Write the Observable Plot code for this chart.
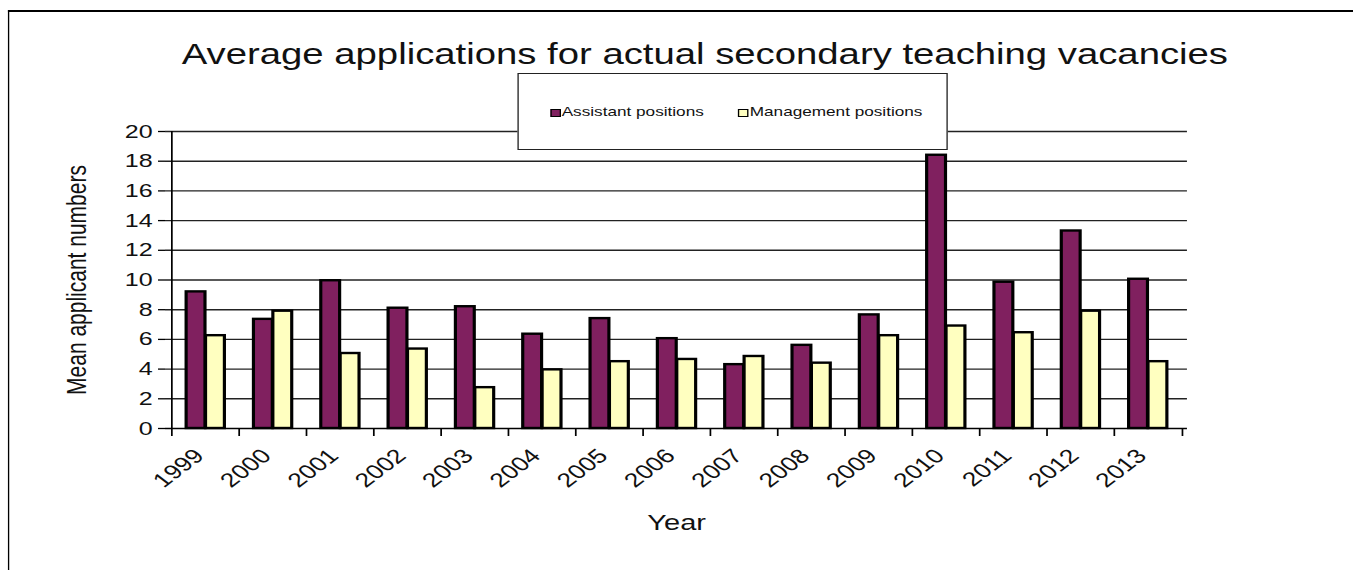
<!DOCTYPE html>
<html>
<head>
<meta charset="utf-8">
<script src="https://cdn.jsdelivr.net/npm/d3@7"></script>
<script src="https://cdn.jsdelivr.net/npm/@observablehq/plot@0.6"></script>
<style>
  html, body { margin: 0; padding: 0; background: #fff; }
  #outer { position: relative; width: 1353px; height: 570px; overflow: hidden; background: #fff; }
  #wrap { position: absolute; left: 0; top: 0; width: 1025px; height: 570px;
          transform: scaleX(1.32); transform-origin: 0 0;
          font-family: "Liberation Sans", Arial, sans-serif; color: #111; }
  #frame { position: absolute; left: 6px; top: 10px; width: 1100px; height: 700px;
           border-left: 1.6px solid #000; border-top: 2px solid #000; }
  #title { position: absolute; left: 0; width: 1068px; top: 40px; text-align: center;
           font-size: 29px; line-height: 29px; white-space: nowrap; }
  #chart { position: absolute; left: 0; top: 0; }
  #legend { position: absolute; left: 391.5px; top: 72.5px; width: 324px; height: 75px;
            border: 1.5px solid #222; background: #fff; }
  .item { position: absolute; top: 31px; font-size: 13px; line-height: 13px; white-space: nowrap; }
  .sw { display: inline-block; width: 6px; height: 6px; border: 1.6px solid #000; vertical-align: -1px; margin-right: 1px; }
</style>
</head>
<body>
<div id="outer">
  <div id="wrap">
    <div id="frame"></div>
    <div id="title"></div>
    <div id="chart"></div>
    <div id="legend"></div>
  </div>
</div>
<script>
// ---- data ----
const years = ["1999","2000","2001","2002","2003","2004","2005","2006","2007","2008","2009","2010","2011","2012","2013"];
const assistant = [9.2, 7.35, 9.95, 8.1, 8.2, 6.35, 7.4, 6.05, 4.3, 5.6, 7.65, 18.4, 9.85, 13.3, 10.05];
const management = [6.25, 7.9, 5.05, 5.35, 2.75, 3.95, 4.5, 4.65, 4.85, 4.4, 6.25, 6.9, 6.45, 7.9, 4.5];
const seriesNames = ["Assistant positions", "Management positions"];
const seriesColors = ["#80205F", "#FFFFC0"];
const yTicks = [0, 2, 4, 6, 8, 10, 12, 14, 16, 18, 20];
const titleText = "Average applications for actual secondary teaching vacancies";
const yLabel = "Mean applicant numbers";
const xLabel = "Year";

const rows = [];
years.forEach((yr, i) => {
  rows.push({year: yr, series: seriesNames[0], value: assistant[i]});
  rows.push({year: yr, series: seriesNames[1], value: management[i]});
});

// ---- layout ----
const W = 1025, H = 570;
const mL = 125, mR = 125.8, mT = 131, mB = 142;
const pI = 0.43, pO = 0.215;
const step = (W - mL - mR) / (years.length - pI + 2 * pO);
const bw = step * (1 - pI);

document.getElementById("title").textContent = titleText;

const chart = Plot.plot({
  width: W, height: H,
  marginLeft: mL, marginRight: mR, marginTop: mT, marginBottom: mB,
  style: {fontFamily: '"Liberation Sans", Arial, sans-serif', color: "#111", background: "transparent", overflow: "visible"},
  x: {domain: years, paddingInner: pI, paddingOuter: pO, align: 0.5},
  y: {domain: [0, 20]},
  color: {domain: seriesNames, range: seriesColors},
  marks: [
    Plot.gridY(yTicks.filter(d => d > 0), {stroke: "#222", strokeOpacity: 1, strokeWidth: 1.4}),
    Plot.barY(rows.filter(d => d.series === seriesNames[0]), {x: "year", y: "value", fill: "series", stroke: "#000", strokeWidth: 2.4, insetRight: bw / 2}),
    Plot.barY(rows.filter(d => d.series === seriesNames[1]), {x: "year", y: "value", fill: "series", stroke: "#000", strokeWidth: 2.4, insetLeft: bw / 2}),
    Plot.ruleY([0], {stroke: "#000", strokeWidth: 1.5}),
    Plot.ruleX([years[0]], {x: d => d, dx: -step / 2, y1: 0, y2: 20, stroke: "#000", strokeWidth: 1.3}),
    Plot.axisY(yTicks, {tickSize: 5.3, tickPadding: 4.5, fontSize: 19, label: null, stroke: "#000", strokeWidth: 1.3}),
    Plot.axisX(years, {tickSize: 8, tickFormat: () => "", dx: -step / 2, label: null, stroke: "#000", strokeWidth: 1.3}),
    Plot.axisX([years[years.length - 1]], {tickSize: 8, tickFormat: () => "", dx: step / 2, label: null, stroke: "#000", strokeWidth: 1.3}),
    Plot.axisX(years, {tickSize: 0, tickPadding: 24, dx: -5, tickRotate: -45, fontSize: 20, label: null}),
    Plot.text([yLabel], {frameAnchor: "left", textAnchor: "middle", lineAnchor: "middle", dx: -67, rotate: -90, fontSize: 21, text: d => d, fill: "#111"}),
    Plot.text([xLabel], {frameAnchor: "bottom", textAnchor: "middle", lineAnchor: "middle", dy: 94, fontSize: 22, text: d => d, fill: "#111"})
  ]
});
document.getElementById("chart").appendChild(chart);

// legend
const legend = document.getElementById("legend");
const legendX = [24, 166.5];
seriesNames.forEach((name, i) => {
  const it = document.createElement("div");
  it.className = "item";
  it.style.left = legendX[i] + "px";
  const sw = document.createElement("span");
  sw.className = "sw";
  sw.style.background = seriesColors[i];
  it.appendChild(sw);
  it.appendChild(document.createTextNode(name));
  legend.appendChild(it);
});
</script>
</body>
</html>
